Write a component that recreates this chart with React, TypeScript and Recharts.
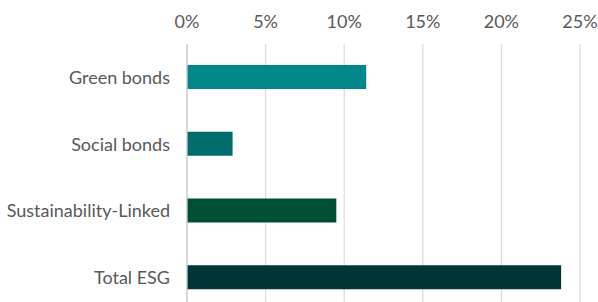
import React from "react";
import { BarChart, Bar, XAxis, YAxis, CartesianGrid, Cell } from "recharts";

const categories = ["Green bonds", "Social bonds", "Sustainability-Linked", "Total ESG"];
const values = [0.114, 0.029, 0.095, 0.238];
const colors = ["#00878A", "#006D6C", "#004F33", "#003638"];
const ticks = [0, 0.05, 0.1, 0.15, 0.2, 0.25];

const data = categories.map((name, i) => ({ name, value: values[i] }));

export default function App() {
  return (
    <div style={{ position: "absolute", left: 0, top: 0 }}>
      <BarChart
        width={598}
        height={311}
        data={data}
        layout="vertical"
        margin={{ top: 14, right: 18, bottom: 0, left: 0 }}
      >
        <CartesianGrid horizontal={false} stroke="#dcdcdc" strokeWidth={1.3} />
        <XAxis
          type="number"
          orientation="top"
          domain={[0, 0.25]}
          ticks={ticks}
          tickFormatter={(v: number) => `${Math.round(v * 100)}%`}
          axisLine={false}
          tickLine={false}
          height={30}
          tickSize={0}
          tickMargin={16}
          tick={{ fill: "#595959", fontSize: 18, fontFamily: "Lato" }}
          interval={0}
        />
        <YAxis
          type="category"
          dataKey="name"
          width={187}
          axisLine={{ stroke: "#d0d0d0", strokeWidth: 1.3 }}
          tickLine={false}
          tickSize={0}
          tickMargin={17}
          tick={{ fill: "#595959", fontSize: 18, fontFamily: "Lato" }}
          interval={0}
        />
        <Bar dataKey="value" barSize={24} isAnimationActive={false}>
          {data.map((d, i) => (
            <Cell key={d.name} fill={colors[i]} />
          ))}
        </Bar>
      </BarChart>
    </div>
  );
}
